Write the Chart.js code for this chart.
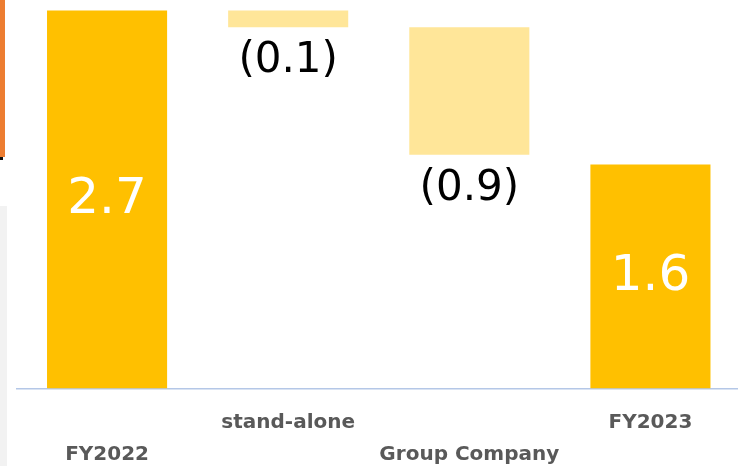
<!DOCTYPE html>
<html>
<head>
<meta charset="utf-8">
<script src="https://cdn.jsdelivr.net/npm/chart.js@4/dist/chart.umd.min.js"></script>
<style>
  html, body { margin: 0; padding: 0; background: #fff; overflow: hidden; width: 738px; height: 466px; }
  #wrap { position: absolute; left: 0; top: 0; width: 741px; height: 466px; }
  .deco { position: absolute; }
</style>
</head>
<body>
<div id="wrap"><canvas id="c"></canvas></div>
<div class="deco" style="left:0;top:0;width:5px;height:157px;background:#ED7D31;"></div>
<div class="deco" style="left:0;top:157px;width:3px;height:3px;background:#111;"></div>
<div class="deco" style="left:0;top:206px;width:7px;height:260px;background:#F2F2F2;"></div>
<script>
// ---- data ----
const categories = ['FY2022', 'stand-alone', 'Group Company', 'FY2023'];
const barStart   = [0,    2.58, 1.67, 0];
const barEnd     = [2.7,  2.70, 2.58, 1.6];
const valueLabels = ['2.7', '(0.1)', '(0.9)', '1.6'];
const isTotal    = [true, false, false, true];

// staggered two-row category labels
const staggered = categories.map((c, i) => i % 2 === 0 ? ['', c] : [c, '']);

const totalColor = '#FFC000';
const changeColor = '#FFE699';

const labelPlugin = {
  id: 'valueLabels',
  afterDatasetsDraw(chart) {
    const ctx = chart.ctx;
    const meta = chart.getDatasetMeta(0);
    meta.data.forEach((bar, i) => {
      ctx.save();
      ctx.textAlign = 'center';
      ctx.textBaseline = 'middle';
      if (isTotal[i]) {
        ctx.fillStyle = '#FFFFFF';
        ctx.font = '50px "DejaVu Sans"';
        const top = Math.min(bar.y, bar.base), bot = Math.max(bar.y, bar.base);
        ctx.fillText(valueLabels[i], bar.x, (top + bot) / 2 + 1);
      } else {
        ctx.fillStyle = '#000000';
        ctx.font = '42px "DejaVu Sans"';
        const bot = Math.max(bar.y, bar.base);
        ctx.fillText(valueLabels[i], bar.x, bot + 34);
      }
      ctx.restore();
    });
  }
};

new Chart(document.getElementById('c'), {
  type: 'bar',
  data: {
    labels: staggered,
    datasets: [{
      data: barStart.map((s, i) => [s, barEnd[i]]),
      backgroundColor: isTotal.map(t => t ? totalColor : changeColor),
      borderWidth: 0,
      barPercentage: 1,
      categoryPercentage: 0.663
    }]
  },
  options: {
    responsive: true,
    maintainAspectRatio: false,
    animation: false,
    layout: { padding: { left: 16.5, right: 0, top: 0, bottom: 0 } },
    plugins: { legend: { display: false }, tooltip: { enabled: false } },
    scales: {
      x: {
        grid: { display: false, drawTicks: false },
        border: { display: true, color: '#B4C7E7', width: 1.5 },
        ticks: {
          color: '#595959',
          font: { family: '"DejaVu Sans"', size: 20, weight: 'bold', lineHeight: 1.6 },
          padding: 18,
          autoSkip: false,
          maxRotation: 0,
          minRotation: 0
        },
        afterFit(scale) { scale.height = 77.5; }
      },
      y: {
        display: false,
        min: 0,
        max: 2.775
      }
    }
  },
  plugins: [labelPlugin]
});
</script>
</body>
</html>
